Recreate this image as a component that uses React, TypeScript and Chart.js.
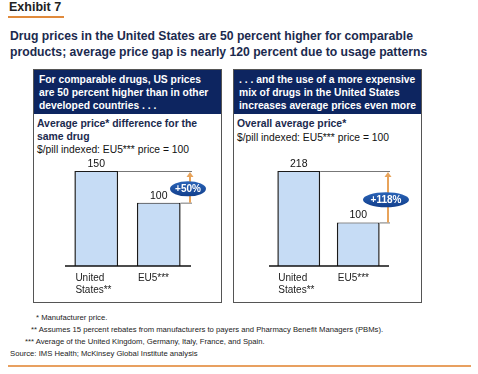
import React, { useEffect, useRef } from "react";
import { Chart, registerables } from "chart.js";

Chart.register(...registerables);

const categories: string[][] = [["United", "States**"], ["EU5***"]];
const leftValues = [150, 100];
const rightValues = [218, 100];
const leftGapLabel = "+50%";
const rightGapLabel = "+118%";

const FONT = "'Liberation Sans', Arial, sans-serif";
const NAVY = "#0d2560";
const TITLE = "#1b2a4e";

const annotatePlugin = {
  id: "annotate",
  afterDatasetsDraw(chart: any, _args: any, opts: any) {
    const ctx = chart.ctx as CanvasRenderingContext2D;
    const area = chart.chartArea;
    const meta = chart.getDatasetMeta(0);
    const bars = meta.data;
    const values = chart.data.datasets[0].data as number[];
    ctx.save();
    // baseline
    ctx.strokeStyle = "#111";
    ctx.lineWidth = 1.5;
    ctx.beginPath();
    ctx.moveTo(area.left, area.bottom);
    ctx.lineTo(area.right + 1, area.bottom);
    ctx.stroke();
    // value labels
    ctx.fillStyle = "#111";
    ctx.font = `10.5px ${FONT}`;
    ctx.textAlign = "center";
    ctx.textBaseline = "alphabetic";
    bars.forEach((b: any, i: number) => {
      ctx.fillText(String(values[i]), b.x, b.y - 4);
    });
    // category labels aligned to bar left
    ctx.textAlign = "left";
    ctx.textBaseline = "middle";
    ctx.font = `10px ${FONT}`;
    ctx.fillStyle = "#222";
    bars.forEach((b: any, i: number) => {
      const lines = chart.data.labels[i] as string[];
      const left = b.x - b.width / 2 + 1;
      lines.forEach((ln: string, j: number) => {
        ctx.fillText(ln, left, area.bottom + 12 + j * 12);
      });
    });
    // connectors
    const ax = area.right;
    const b0 = bars[0];
    const b1 = bars[1];
    ctx.strokeStyle = "#777";
    ctx.lineWidth = 1;
    ctx.beginPath();
    ctx.moveTo(b0.x + b0.width / 2, b0.y + 0.5);
    ctx.lineTo(ax + 2, b0.y + 0.5);
    ctx.moveTo(b1.x + b1.width / 2, b1.y + 0.5);
    ctx.lineTo(ax + 2, b1.y + 0.5);
    ctx.stroke();
    // orange arrow
    ctx.strokeStyle = "#e8a35a";
    ctx.fillStyle = "#e8a35a";
    ctx.lineWidth = 2;
    ctx.beginPath();
    ctx.moveTo(ax, b1.y);
    ctx.lineTo(ax, b0.y + 5);
    ctx.stroke();
    ctx.beginPath();
    ctx.moveTo(ax - 3.5, b0.y + 6);
    ctx.lineTo(ax + 3.5, b0.y + 6);
    ctx.lineTo(ax, b0.y + 1);
    ctx.closePath();
    ctx.fill();
    // ellipse
    const cy = (b0.y + b1.y) / 2 + opts.dy;
    const rx = opts.w / 2;
    const ry = 7.5;
    const g = ctx.createLinearGradient(0, cy - ry, 0, cy + ry);
    g.addColorStop(0, "#2a64b8");
    g.addColorStop(1, "#123f8c");
    ctx.fillStyle = g;
    ctx.beginPath();
    ctx.ellipse(ax - 2, cy, rx, ry, 0, 0, Math.PI * 2);
    ctx.fill();
    ctx.fillStyle = "#fff";
    ctx.font = `bold 10px ${FONT}`;
    ctx.textAlign = "center";
    ctx.textBaseline = "middle";
    ctx.fillText(opts.text, ax - 2, cy + 0.5);
    ctx.restore();
  },
};

function BarPanel(props: { values: number[]; max: number; pct: number; padLeft: number; padRight: number; gap: string; ellipseW: number; dy: number }) {
  const ref = useRef<HTMLCanvasElement>(null);
  useEffect(() => {
    if (!ref.current) return;
    const chart = new Chart(ref.current, {
      type: "bar",
      data: {
        labels: categories as any,
        datasets: [
          {
            data: props.values,
            backgroundColor: "#c6dcf5",
            borderColor: "#1a1a1a",
            borderWidth: { top: 1, left: 1.5, right: 1.5, bottom: 0 } as any,
            borderSkipped: "bottom",
            barPercentage: props.pct,
            categoryPercentage: 1,
          },
        ],
      },
      options: {
        animation: false,
        responsive: false,
        maintainAspectRatio: false,
        layout: { padding: { left: props.padLeft, right: props.padRight, top: 21, bottom: 34 } },
        plugins: {
          legend: { display: false },
          tooltip: { enabled: false },
          annotate: { text: props.gap, w: props.ellipseW, dy: props.dy },
        } as any,
        scales: {
          x: { display: false, offset: true, grid: { display: false } },
          y: { display: false, min: 0, max: props.max },
        },
      },
      plugins: [annotatePlugin],
    });
    return () => chart.destroy();
  }, []);
  return <canvas ref={ref} width={188} height={150} style={{ width: 188, height: 150, display: "block" }} />;
}

function Panel(props: { left: number; header: string[]; sub: string[]; note: string; children: any }) {
  return (
    <div
      style={{
        position: "absolute",
        left: props.left,
        top: 69,
        width: 189,
        height: 234,
        border: "1px solid #555",
        boxSizing: "border-box",
        background: "#fff",
      }}
    >
      <div style={{ background: NAVY, height: 44, padding: "3px 5px 0 5px", boxSizing: "border-box" }}>
        {props.header.map((h, i) => (
          <div key={i} style={{ color: "#fff", font: `bold 10.3px ${FONT}`, lineHeight: "13px", whiteSpace: "nowrap" }}>
            {h}
          </div>
        ))}
      </div>
      <div style={{ padding: "4px 0 0 3px" }}>
        {props.sub.map((s, i) => (
          <div key={i} style={{ color: TITLE, font: `bold 10.4px ${FONT}`, lineHeight: "12.5px", whiteSpace: "nowrap" }}>
            {s}
          </div>
        ))}
        <div style={{ color: "#111", font: `10.3px ${FONT}`, lineHeight: "13px", whiteSpace: "nowrap" }}>{props.note}</div>
      </div>
      <div style={{ position: "absolute", left: 0, top: 80 }}>{props.children}</div>
    </div>
  );
}

export default function App() {
  const foot: [number, string][] = [
    [36, "* Manufacturer price."],
    [31, "** Assumes 15 percent rebates from manufacturers to payers and Pharmacy Benefit Managers (PBMs)."],
    [25, "*** Average of the United Kingdom, Germany, Italy, France, and Spain."],
    [10, "Source: IMS Health; McKinsey Global Institute analysis"],
  ];
  return (
    <div style={{ position: "fixed", left: 0, top: 0, width: 478, height: 374, background: "#fff", overflow: "hidden", fontFamily: FONT }}>
      <div style={{ position: "absolute", left: 9, top: 0, font: `bold 12.5px ${FONT}`, color: "#222", lineHeight: "15px" }}>Exhibit 7</div>
      <div style={{ position: "absolute", left: 8, top: 16, width: 56, height: 2, background: "#e08a3c" }} />
      <div style={{ position: "absolute", left: 10, top: 28, font: `bold 12.2px ${FONT}`, color: TITLE, lineHeight: "16px", whiteSpace: "nowrap" }}>
        <div>Drug prices in the United States are 50 percent higher for comparable</div>
        <div>products; average price gap is nearly 120 percent due to usage patterns</div>
      </div>
      <Panel
        left={33}
        header={["For comparable drugs, US prices", "are 50 percent higher than in other", "developed countries . . ."]}
        sub={["Average price* difference for the", "same drug"]}
        note="$/pill indexed: EU5*** price = 100"
      >
        <BarPanel values={leftValues} max={150} pct={0.7} padLeft={31} padRight={32} gap={leftGapLabel} ellipseW={36} dy={2} />
      </Panel>
      <Panel
        left={233}
        header={[". . . and the use of a more expensive", "mix of drugs in the United States", "increases average prices even more"]}
        sub={["Overall average price*"]}
        note="$/pill indexed: EU5*** price = 100"
      >
        <BarPanel values={rightValues} max={218} pct={0.72} padLeft={35} padRight={34} gap={rightGapLabel} ellipseW={46} dy={3} />
      </Panel>
      {foot.map(([x, t], i) => (
        <div key={i} style={{ position: "absolute", left: x, top: 313 + i * 12, font: `7.7px ${FONT}`, color: "#222", lineHeight: "10px", whiteSpace: "nowrap" }}>
          {t}
        </div>
      ))}
      <div style={{ position: "absolute", left: 8, top: 365, width: 463, height: 2, background: "#e8a060" }} />
    </div>
  );
}
